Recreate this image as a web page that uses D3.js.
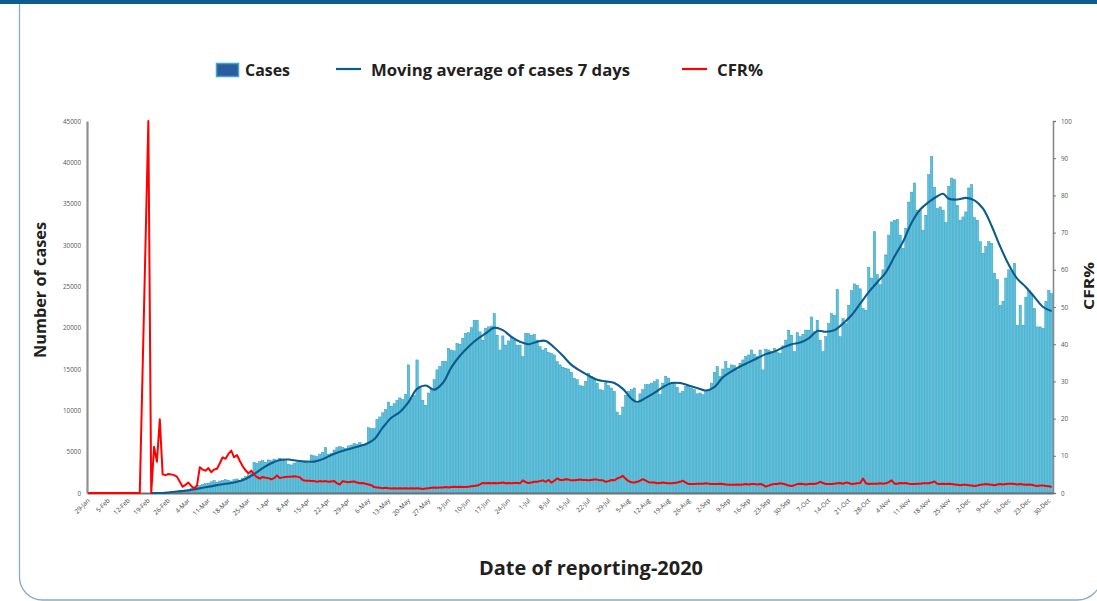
<!DOCTYPE html>
<html><head><meta charset="utf-8">
<script src="https://cdn.jsdelivr.net/npm/d3@7"></script>
<style>body{margin:0;background:#fff;}svg{display:block;}</style>
</head><body>
<svg id="chart" width="1097" height="601"></svg>
<script>
// ---------- DATA ----------
const startDate = "2020-01-29";
const cases = [
0,0,0,0,0,0,0,0,0,0, 0,0,0,0,0,0,0,0,0,0, 0,0,0,0,0,0,
0,10,30,60,120,180,250,320,380,
450,550,600,750,900,1000,1150,
1200,1350,1500,1300,1450,1500,1600,
1550,1450,1600,1700,1550,1800,2000,
2200,2400,3700,3600,3800,3900,3700,
4000,3900,4100,4000,4200,4100,3900,
3500,3400,3600,3700,3900,3800,3700,
3600,4600,4500,4400,4700,4900,5500,
4700,4800,5200,5500,5600,5500,5400,
5700,5800,6000,5900,6100,5900,5800,
7900,7800,7800,8900,9200,9700,10100,
11000,10500,10800,11200,11500,11300,11900,
15500,11500,11800,16100,12900,11200,10600,
12100,12500,13700,14900,15300,15900,15900,
17500,17300,17200,18100,18000,18700,19300,
19400,20000,20900,20900,19500,18500,19900,
20100,20200,21700,19100,17300,19000,17900,
18400,18900,18500,17900,17900,16500,19300,
19300,19100,19200,18500,17700,17300,17500,
17000,16900,16700,15900,15500,15200,15100,
15000,14600,13900,13700,13000,12900,13500,
14500,14100,13900,13300,12500,12400,13300,
13000,12700,12300,9800,9400,10400,11800,
12300,12500,12700,10800,12000,12500,13100,
13100,13300,13500,13700,11900,13300,14100,
13900,13300,13300,12800,12100,12300,12900,
12900,12700,12500,12000,12100,11900,12400,
12400,13300,14600,15300,14100,15000,15900,
15100,15500,15400,14900,15700,16100,16500,
16700,17300,16800,16500,17300,14900,17400,
17300,17100,17500,17000,16900,17800,18500,
19700,19100,17100,19400,18900,19200,19700,
19700,21300,19500,20900,18500,17100,18900,
20500,21700,21500,24600,18900,21100,20500,
22700,24500,25300,25100,24700,22300,22100,
27300,26000,31600,26400,25200,27000,28800,
31200,32800,33000,33100,31200,29600,32000,
35200,36400,37500,34200,34200,31800,33600,
38500,40700,37000,34400,34600,34200,32700,
37100,38100,37900,34800,33000,33400,34000,
36900,37300,33300,33000,30400,29000,29800,
30400,30200,26600,25800,22700,23200,26000,
27000,26800,27800,20300,22700,20300,23700,
24500,24000,22300,20100,20100,19900,23200,
24500,24100
];
const cfr = [
0,0,0,0,0,0,0,0,0,0, 0,0,0,0,0,0,0,0,0,
null,null,
100,0,12.4,8.4,19.8,5.0,4.8,5.1,5.0,
4.8,4.4,3.0,1.7,2.2,2.8,1.9,1.2,2.0,6.9,
6.3,6.0,6.7,5.6,6.3,6.5,8.0,9.6,9.2,10.5,
11.4,9.6,10.2,8.6,7.2,6.1,5.3,6.0,4.9,4.3,
3.9,4.3,4.1,4.0,3.7,4.0,4.7,4.0,4.2,4.3,
4.4,4.4,4.5,4.4,4.2,3.5,3.3,3.3,3.2,3.2,
3.0,3.2,3.1,3.2,3.0,3.1,3.2,2.6,2.3,3.2,
3.0,2.9,3.0,3.1,2.8,2.6,2.7,2.5,2.3,2.1,
1.6,1.5,1.4,1.3,1.4,1.3,1.2,1.3,1.2,1.3,
1.2,1.3,1.2,1.3,1.2,1.3,1.2,1.1,1.2,1.3,
1.4,1.5,1.4,1.5,1.5,1.6,1.5,1.6,1.7,1.6,
1.7,1.6,1.6,1.7,1.8,1.9,2.0,2.3,2.7,2.6,
2.7,2.6,2.7,2.6,2.7,2.8,2.6,2.7,2.6,2.7,
2.7,2.6,3.4,2.9,2.7,2.8,3.0,3.0,3.2,3.4,
3.0,3.5,2.8,3.3,3.9,3.5,3.5,3.7,3.6,3.4,
3.4,3.5,3.6,3.5,3.5,3.4,3.5,3.6,3.6,3.4,
3.4,3.0,3.2,3.5,3.4,3.9,4.2,4.6,3.8,3.2,
2.9,2.8,3.0,3.3,3.7,3.3,2.9,2.8,2.8,2.6,
2.7,2.8,2.7,2.6,2.6,2.7,2.8,3.0,3.3,2.8,
2.4,2.4,2.4,2.5,2.5,2.5,2.6,2.5,2.4,2.4,
2.4,2.5,2.4,2.3,2.2,2.2,2.2,2.3,2.2,2.3,
2.4,2.3,2.4,2.4,2.3,2.4,2.2,1.7,2.0,2.3,
2.4,2.4,2.6,2.5,2.3,2.0,1.9,2.1,2.4,2.5,
2.4,2.3,2.4,2.5,2.4,2.6,3.0,2.7,2.4,2.4,
2.4,2.5,2.6,2.7,2.5,2.8,2.7,2.4,2.5,2.6,
2.7,3.9,2.6,2.4,2.5,2.5,2.5,2.6,2.5,2.6,
2.9,3.4,2.5,2.5,2.7,2.6,2.7,2.5,2.4,2.4,
2.5,2.5,2.6,2.6,2.6,2.8,3.1,2.5,2.4,2.5,
2.4,2.5,2.4,2.3,2.2,2.1,2.2,2.2,2.1,2.0,
1.9,2.0,2.2,2.3,2.4,2.3,2.2,2.1,2.3,2.4,
2.3,2.4,2.5,2.5,2.4,2.3,2.4,2.3,2.2,2.3,
2.2,2.0,1.9,2.0,2.0,1.9,1.8,1.6
];
const maDates = ["20-Feb","24-Feb","26-Feb","29-Feb","4-Mar","7-Mar","11-Mar","14-Mar","18-Mar","21-Mar","24-Mar","27-Mar","30-Mar",
"2-Apr","5-Apr","8-Apr","11-Apr","14-Apr","17-Apr","20-Apr","23-Apr","26-Apr","29-Apr","2-May","5-May","8-May","11-May","14-May",
"17-May","20-May","23-May","26-May","29-May","1-Jun","4-Jun","7-Jun","10-Jun","13-Jun","16-Jun","19-Jun","22-Jun","25-Jun","28-Jun",
"1-Jul","4-Jul","7-Jul","10-Jul","13-Jul","16-Jul","19-Jul","22-Jul","25-Jul","28-Jul","31-Jul","3-Aug","6-Aug","8-Aug","11-Aug",
"14-Aug","17-Aug","20-Aug","23-Aug","26-Aug","29-Aug","1-Sep","4-Sep","7-Sep","10-Sep","13-Sep","16-Sep","19-Sep","22-Sep","25-Sep",
"28-Sep","1-Oct","4-Oct","7-Oct","10-Oct","13-Oct","16-Oct","19-Oct","22-Oct","25-Oct","28-Oct","31-Oct","3-Nov","6-Nov","9-Nov",
"12-Nov","15-Nov","18-Nov","21-Nov","23-Nov","25-Nov","28-Nov","1-Dec","4-Dec","7-Dec","10-Dec","13-Dec","16-Dec","19-Dec","22-Dec",
"25-Dec","28-Dec","31-Dec"];
const maValues = [0,0,60,180,300,500,750,950,1150,1350,1700,2300,3000,
3600,4000,4050,3900,3800,3800,4100,4600,5000,5300,5600,5900,6500,7900,9100,
9800,11000,12600,13000,12500,13300,15200,16600,17700,18600,19300,20000,19700,18900,18300,
18000,18300,18400,17600,16600,15500,14800,14200,13700,13500,13300,12600,11400,11000,11500,
12100,12800,13300,13300,13000,12700,12400,12800,14000,14700,15300,15800,16300,16800,17100,
17600,18000,18200,18700,19600,19500,19700,20500,21500,22900,24300,25500,26700,28600,30400,
32700,34300,35200,35900,36200,35600,35500,35700,35400,34400,32300,29800,27600,25900,24900,
23700,22500,22000];
const yTicks = [0,5000,10000,15000,20000,25000,30000,35000,40000,45000];
const cfrTicks = [0,10,20,30,40,50,60,70,80,90,100];
const xTickLabels = ["29-Jan","5-Feb","12-Feb","19-Feb","26-Feb","4-Mar","11-Mar","18-Mar","25-Mar","1-Apr","8-Apr","15-Apr",
"22-Apr","29-Apr","6-May","13-May","20-May","27-May","3-Jun","10-Jun","17-Jun","24-Jun","1-Jul","8-Jul","15-Jul","22-Jul",
"29-Jul","5-Aug","12-Aug","19-Aug","26-Aug","2-Sep","9-Sep","16-Sep","23-Sep","30-Sep","7-Oct","14-Oct","21-Oct","28-Oct",
"4-Nov","11-Nov","18-Nov","25-Nov","2-Dec","9-Dec","16-Dec","23-Dec","30-Dec"];
const legendLabels = ["Cases","Moving average of cases 7 days","CFR%"];

// ---------- CHART ----------
const svg = d3.select("#chart");
const fmt = d3.timeFormat("%-d-%b");
const start = d3.timeParse("%Y-%m-%d")(startDate);
const days = cases.map((v,i)=>fmt(d3.timeDay.offset(start,i)));

const L = 87, R = 1053, T = 121, B = 493;
const x = d3.scaleBand().domain(days).range([L,R]).paddingInner(0.18).paddingOuter(0.05);
const y = d3.scaleLinear().domain([0,45000]).range([B,T]);
const y2 = d3.scaleLinear().domain([0,100]).range([B,T]);
const cx = d => x(d) + x.bandwidth()/2;

// frame: left side, bottom with rounded corners, right side running off the page
const fr = d3.path();
fr.moveTo(19.5, 4);
fr.lineTo(19.5, 577);
fr.arcTo(19.5, 600, 42.5, 600, 23);
fr.lineTo(1077, 600);
fr.arcTo(1102, 600, 1102, 575, 25);
fr.lineTo(1102, 4);
svg.append("path").attr("d", fr.toString()).attr("fill","none").attr("stroke","#86abc6").attr("stroke-width",1.3);
svg.append("rect").attr("x",0).attr("y",0).attr("width",1097).attr("height",4).attr("fill","#0c5d8f");

// bars
svg.append("g").selectAll("rect").data(cases).join("rect")
  .attr("x",(d,i)=>x(days[i])).attr("width",x.bandwidth())
  .attr("y",d=>y(d)).attr("height",d=>B-y(d))
  .attr("fill","#5fc1db").attr("stroke","#2196bd").attr("stroke-width",0.45);

// axes
const font = "'Open Sans', 'Noto Sans', sans-serif";
const gl = svg.append("g").attr("transform",`translate(${L},0)`)
  .call(d3.axisLeft(y).tickValues(yTicks).tickFormat(d3.format("d")).tickSize(0).tickPadding(6));
gl.select(".domain").attr("stroke","#8f8f8f").attr("stroke-width",2.2);
gl.selectAll("text").attr("font-family",font).attr("font-size",6.3).attr("fill","#555");

const gr = svg.append("g").attr("transform",`translate(${R},0)`)
  .call(d3.axisRight(y2).tickValues(cfrTicks).tickFormat(d3.format("d")).tickSize(3).tickPadding(5));
gr.select(".domain").attr("stroke","#8a8a8a").attr("stroke-width",1.6);
gr.selectAll("line").attr("stroke","#777");
gr.selectAll("text").attr("font-family",font).attr("font-size",6.3).attr("fill","#555");

const gb = svg.append("g").attr("transform",`translate(0,${B})`)
  .call(d3.axisBottom(x).tickValues(xTickLabels).tickSize(0).tickPadding(6));
gb.select(".domain").attr("stroke","#6f6f6f").attr("stroke-width",2.2);
gb.selectAll("text").attr("font-family",font).attr("font-size",6.4).attr("fill","#3a3a3a")
  .attr("text-anchor","end").attr("dy",null).attr("dx",null)
  .attr("transform","translate(2,8) rotate(-45)").attr("y",0).attr("x",0);

// MA line
const maPts = maDates.map((d,i)=>({d, v: maValues[i]}));
svg.append("path").datum(maPts)
  .attr("d", d3.line().x(p=>cx(p.d)).y(p=>y(p.v)).curve(d3.curveCatmullRom.alpha(0.5)))
  .attr("fill","none").attr("stroke","#0b5b8f").attr("stroke-width",2.1);

// CFR line
const cfrPts = cfr.map((v,i)=>({d:days[i], v})).filter(p=>p.v!==null);
svg.append("path").datum(cfrPts)
  .attr("d", d3.line().x(p=>cx(p.d)).y(p=>y2(p.v)))
  .attr("fill","none").attr("stroke","#ff0000").attr("stroke-width",2).attr("stroke-linejoin","round");

// titles
const tcol = "#231f20";
svg.append("text").attr("transform","translate(46,290) rotate(-90)").attr("text-anchor","middle")
  .attr("font-family",font).attr("font-weight",700).attr("font-size",16).attr("fill",tcol)
  .attr("textLength",136).attr("lengthAdjust","spacingAndGlyphs").text("Number of cases");
svg.append("text").attr("transform","translate(1094,286) rotate(-90)").attr("text-anchor","middle")
  .attr("font-family",font).attr("font-weight",700).attr("font-size",15).attr("fill",tcol)
  .attr("textLength",48).attr("lengthAdjust","spacingAndGlyphs").text("CFR%");
svg.append("text").attr("x",591).attr("y",575).attr("text-anchor","middle")
  .attr("font-family",font).attr("font-weight",700).attr("font-size",19).attr("fill",tcol)
  .attr("textLength",224).attr("lengthAdjust","spacingAndGlyphs").text("Date of reporting-2020");

// legend
const lg = svg.append("g").attr("font-family",font).attr("font-weight",700).attr("font-size",16).attr("fill",tcol);
lg.append("rect").attr("x",216.5).attr("y",63.5).attr("width",22).attr("height",13)
  .attr("fill","#2d5c9e").attr("stroke","#3fa7cf").attr("stroke-width",1.5);
lg.append("text").attr("x",245).attr("y",76).attr("textLength",45).attr("lengthAdjust","spacingAndGlyphs").text(legendLabels[0]);
lg.append("line").attr("x1",336).attr("x2",361).attr("y1",69).attr("y2",69).attr("stroke","#0b5b8f").attr("stroke-width",2.2);
lg.append("text").attr("x",371).attr("y",76).attr("textLength",259).attr("lengthAdjust","spacingAndGlyphs").text(legendLabels[1]);
lg.append("line").attr("x1",682).attr("x2",707).attr("y1",69).attr("y2",69).attr("stroke","#ff0000").attr("stroke-width",2.2);
lg.append("text").attr("x",717).attr("y",76).attr("textLength",46).attr("lengthAdjust","spacingAndGlyphs").text(legendLabels[2]);
</script>
</body></html>
